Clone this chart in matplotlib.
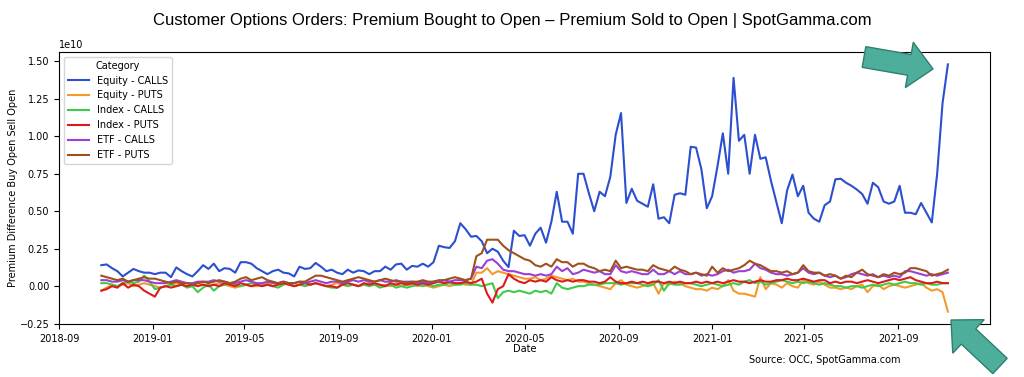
import numpy as np
import pandas as pd
import matplotlib
matplotlib.use("Agg")
import matplotlib.pyplot as plt
from matplotlib.patches import FancyArrow
from matplotlib.transforms import IdentityTransform

# weekly dates (fridays)
start_date = "2018-10-26"
n_weeks = 159

categories = ["Equity - CALLS", "Equity - PUTS", "Index - CALLS",
              "Index - PUTS", "ETF - CALLS", "ETF - PUTS"]

# values in units of 1e10
equity_calls = [
    0.14, 0.145, 0.12, 0.10, 0.065, 0.09, 0.115, 0.10, 0.09, 0.09,
    0.08, 0.09, 0.09, 0.06, 0.125, 0.10, 0.08, 0.065, 0.10, 0.14,
    0.115, 0.15, 0.10, 0.12, 0.115, 0.09, 0.16, 0.16, 0.15, 0.12,
    0.10, 0.08, 0.10, 0.11, 0.09, 0.085, 0.065, 0.13, 0.115, 0.12,
    0.155, 0.13, 0.10, 0.11, 0.09, 0.08, 0.11, 0.09, 0.105, 0.10,
    0.08, 0.10, 0.10, 0.13, 0.11, 0.145, 0.15, 0.11, 0.135, 0.13,
    0.15, 0.13, 0.16, 0.27, 0.26, 0.255, 0.30, 0.42, 0.38, 0.33,
    0.335, 0.30, 0.22, 0.25, 0.23, 0.17, 0.127, 0.37, 0.335, 0.34,
    0.27, 0.35, 0.39, 0.29, 0.43, 0.63, 0.43, 0.43, 0.35, 0.75,
    0.75, 0.62, 0.50, 0.63, 0.60, 0.73, 1.01, 1.155, 0.555, 0.65,
    0.57, 0.55, 0.53, 0.68, 0.45, 0.46, 0.42, 0.61, 0.62, 0.61,
    0.93, 0.925, 0.78, 0.52, 0.60, 0.80, 1.02, 0.75, 1.39, 0.97,
    1.01, 0.75, 1.01, 0.85, 0.86, 0.70, 0.56, 0.42, 0.64, 0.745,
    0.60, 0.67, 0.49, 0.45, 0.43, 0.54, 0.565, 0.713, 0.717, 0.69,
    0.67, 0.645, 0.615, 0.55, 0.69, 0.66, 0.565, 0.55, 0.565, 0.67,
    0.49, 0.49, 0.48, 0.555, 0.49, 0.425, 0.75, 1.22, 1.48]

equity_puts = [
    -0.03, -0.01, 0.01, 0.00, 0.01, 0.02, 0.00, 0.01, 0.02, 0.01,
    0.00, -0.01, 0.00, 0.01, 0.02, 0.01, 0.00, 0.01, 0.02, 0.01,
    0.00, 0.01, 0.02, 0.01, 0.00, -0.01, 0.00, 0.01, 0.00, 0.00,
    0.01, 0.02, 0.00, 0.01, 0.02, 0.01, 0.00, 0.01, 0.02, 0.01,
    0.02, 0.01, 0.00, 0.01, 0.02, 0.01, 0.02, 0.01, 0.00, 0.01,
    0.02, 0.01, 0.00, 0.01, 0.00, 0.01, 0.00, 0.01, 0.01, 0.00,
    0.01, 0.00, -0.01, 0.00, 0.01, 0.00, 0.01, 0.02, 0.01, 0.01,
    0.09, 0.09, 0.12, 0.08, 0.10, 0.09, 0.08, 0.07, 0.06, 0.05,
    0.05, 0.06, 0.04, 0.05, 0.07, 0.06, 0.05, 0.04, 0.05, 0.03,
    0.03, 0.02, 0.01, 0.00, -0.01, -0.02, 0.02, 0.04, 0.01, 0.00,
    -0.01, 0.00, 0.01, 0.02, -0.05, 0.02, 0.01, 0.03, 0.02, 0.00,
    -0.01, -0.02, -0.02, -0.03, -0.01, -0.02, 0.00, 0.04, -0.03, -0.05,
    -0.05, -0.06, -0.07, 0.06, -0.02, 0.02, 0.01, -0.01, 0.02, 0.00,
    -0.01, 0.04, 0.02, 0.01, 0.03, 0.01, -0.01, -0.01, -0.02, -0.01,
    -0.02, 0.00, 0.01, -0.04, 0.00, 0.01, -0.02, 0.00, 0.01, 0.00,
    -0.01, 0.00, 0.01, 0.02, -0.01, -0.03, -0.02, -0.04, -0.17]

index_calls = [
    0.02, 0.02, 0.01, 0.00, 0.02, 0.03, 0.02, 0.03, 0.07, 0.03,
    -0.02, -0.01, 0.00, 0.01, 0.00, 0.01, -0.01, 0.00, -0.04, -0.01,
    0.01, -0.03, 0.00, 0.01, 0.02, 0.01, 0.00, 0.01, 0.02, 0.01,
    0.00, 0.01, 0.00, -0.01, 0.01, 0.02, 0.00, 0.01, 0.00, 0.01,
    0.02, 0.01, 0.00, -0.01, -0.01, 0.01, 0.00, 0.01, 0.00, 0.01,
    0.00, 0.01, -0.01, 0.00, 0.01, -0.01, 0.00, -0.01, 0.00, 0.01,
    0.00, 0.01, 0.00, 0.01, 0.01, 0.02, 0.01, 0.01, 0.02, 0.01,
    0.01, 0.00, 0.01, 0.02, -0.08, -0.04, -0.03, -0.04, -0.03, -0.04,
    -0.05, -0.03, -0.04, -0.03, -0.05, 0.02, -0.01, -0.02, -0.01, 0.00,
    0.00, 0.01, 0.01, 0.01, 0.02, 0.02, 0.02, 0.01, 0.02, 0.02,
    0.02, 0.01, 0.00, 0.01, 0.04, -0.03, 0.02, 0.01, 0.01, 0.02,
    0.02, 0.01, 0.00, 0.01, 0.02, 0.01, 0.00, 0.01, 0.02, 0.01,
    0.03, 0.04, 0.02, 0.03, 0.01, 0.02, 0.03, 0.04, 0.03, 0.02,
    0.03, 0.02, 0.03, 0.02, 0.01, 0.02, 0.01, 0.00, 0.00, -0.01,
    0.00, 0.00, -0.01, 0.00, 0.01, 0.00, 0.01, 0.02, 0.01, 0.02,
    0.03, 0.02, 0.02, 0.01, 0.02, 0.01, 0.01, 0.02, 0.02]

index_puts = [
    -0.03, -0.02, 0.00, -0.01, 0.02, -0.01, 0.01, 0.00, -0.03, -0.05,
    -0.07, -0.01, 0.00, -0.01, 0.00, 0.01, 0.00, 0.01, 0.00, 0.01,
    0.00, 0.01, 0.00, 0.02, 0.01, 0.00, 0.02, 0.01, 0.00, 0.01,
    0.00, 0.01, 0.00, 0.01, 0.02, 0.01, 0.00, 0.01, 0.02, 0.01,
    0.02, 0.01, 0.00, 0.00, -0.01, 0.01, 0.02, 0.01, 0.00, 0.02,
    0.01, 0.02, 0.01, 0.00, 0.02, 0.01, 0.02, 0.01, 0.02, 0.01,
    0.02, 0.01, 0.02, 0.03, 0.02, 0.03, 0.02, 0.02, 0.03, 0.02,
    0.03, 0.05, -0.05, -0.11, -0.02, 0.00, 0.08, 0.05, 0.03, 0.02,
    0.04, 0.03, 0.04, 0.03, 0.06, 0.04, 0.03, 0.04, 0.03, 0.04,
    0.04, 0.03, 0.03, 0.02, 0.03, 0.06, 0.03, 0.02, 0.02, 0.03,
    0.02, 0.03, 0.02, 0.03, 0.03, 0.02, 0.03, 0.02, 0.03, 0.02,
    0.02, 0.03, 0.02, 0.03, 0.02, 0.03, 0.02, 0.03, 0.04, 0.03,
    0.03, 0.02, 0.03, 0.04, 0.03, 0.03, 0.04, 0.04, 0.05, 0.04,
    0.04, 0.05, 0.04, 0.03, 0.04, 0.04, 0.02, 0.03, 0.02, 0.03,
    0.03, 0.02, 0.03, 0.04, 0.03, 0.02, 0.03, 0.04, 0.05, 0.04,
    0.05, 0.06, 0.04, 0.03, 0.02, 0.02, 0.03, 0.02, 0.02]

etf_calls = [
    0.04, 0.04, 0.03, 0.03, 0.04, 0.03, 0.04, 0.04, 0.04, 0.03,
    0.02, 0.02, 0.02, 0.03, 0.04, 0.03, 0.02, 0.02, 0.03, 0.03,
    0.03, 0.04, 0.03, 0.03, 0.02, 0.02, 0.03, 0.04, 0.03, 0.02,
    0.02, 0.03, 0.02, 0.02, 0.03, 0.02, 0.02, 0.03, 0.02, 0.03,
    0.04, 0.03, 0.02, 0.03, 0.03, 0.02, 0.03, 0.04, 0.03, 0.04,
    0.03, 0.03, 0.04, 0.03, 0.03, 0.04, 0.03, 0.03, 0.03, 0.02,
    0.03, 0.02, 0.03, 0.03, 0.04, 0.03, 0.04, 0.04, 0.04, 0.05,
    0.13, 0.12, 0.17, 0.18, 0.15, 0.11, 0.10, 0.10, 0.09, 0.08,
    0.08, 0.07, 0.08, 0.07, 0.08, 0.13, 0.10, 0.12, 0.08, 0.09,
    0.11, 0.10, 0.09, 0.10, 0.08, 0.08, 0.14, 0.10, 0.09, 0.10,
    0.09, 0.08, 0.08, 0.11, 0.08, 0.08, 0.10, 0.08, 0.10, 0.08,
    0.08, 0.09, 0.07, 0.08, 0.07, 0.08, 0.10, 0.11, 0.09, 0.10,
    0.10, 0.11, 0.15, 0.12, 0.11, 0.09, 0.08, 0.08, 0.07, 0.08,
    0.09, 0.12, 0.09, 0.08, 0.09, 0.07, 0.06, 0.07, 0.05, 0.06,
    0.08, 0.09, 0.08, 0.07, 0.08, 0.06, 0.07, 0.06, 0.07, 0.06,
    0.10, 0.10, 0.09, 0.08, 0.07, 0.08, 0.07, 0.08, 0.09]

etf_puts = [
    0.07, 0.06, 0.05, 0.04, 0.05, 0.03, 0.04, 0.05, 0.06, 0.05,
    0.05, 0.04, 0.03, 0.02, 0.03, 0.02, 0.02, 0.01, 0.02, 0.03,
    0.02, 0.03, 0.04, 0.03, 0.02, 0.03, 0.05, 0.06, 0.04, 0.05,
    0.06, 0.04, 0.03, 0.02, 0.03, 0.02, 0.02, 0.03, 0.03, 0.05,
    0.07, 0.07, 0.06, 0.05, 0.04, 0.03, 0.04, 0.05, 0.06, 0.05,
    0.04, 0.03, 0.04, 0.05, 0.04, 0.03, 0.03, 0.02, 0.03, 0.03,
    0.04, 0.03, 0.03, 0.04, 0.04, 0.05, 0.06, 0.05, 0.04, 0.05,
    0.20, 0.22, 0.31, 0.31, 0.31, 0.27, 0.24, 0.22, 0.20, 0.18,
    0.17, 0.14, 0.13, 0.15, 0.13, 0.18, 0.16, 0.16, 0.13, 0.15,
    0.15, 0.13, 0.12, 0.10, 0.11, 0.10, 0.17, 0.12, 0.13, 0.12,
    0.11, 0.11, 0.10, 0.14, 0.12, 0.11, 0.10, 0.13, 0.11, 0.10,
    0.08, 0.09, 0.08, 0.07, 0.13, 0.09, 0.12, 0.10, 0.11, 0.12,
    0.14, 0.17, 0.15, 0.14, 0.12, 0.10, 0.10, 0.09, 0.10, 0.08,
    0.09, 0.14, 0.10, 0.09, 0.09, 0.07, 0.08, 0.07, 0.05, 0.07,
    0.06, 0.09, 0.11, 0.08, 0.07, 0.06, 0.08, 0.07, 0.09, 0.08,
    0.09, 0.12, 0.12, 0.11, 0.10, 0.07, 0.08, 0.09, 0.11]

colors = ["#2b4fcf", "#f59a2a", "#3fcb4a", "#dc1c1c", "#9b3fd8", "#a0501a"]

dates = pd.date_range(start_date, periods=n_weeks, freq="7D")
series = [equity_calls, equity_puts, index_calls, index_puts, etf_calls, etf_puts]

fig = plt.figure(figsize=(10.24, 3.77), dpi=100)
ax = fig.add_axes([0.0576, 0.1406, 0.9094, 0.7214])

for name, vals, col in zip(categories, series, colors):
    ax.plot(dates, np.array(vals) * 1e10, color=col, lw=1.5, label=name)

ax.tick_params(labelsize=7)
ax.yaxis.get_offset_text().set_fontsize(7)
ax.set_yticks([-0.25e10, 0, 0.25e10, 0.5e10, 0.75e10, 1.0e10, 1.25e10, 1.5e10])
ax.set_xlabel("Date", fontsize=7, labelpad=0)
ax.set_ylabel("Premium Difference Buy Open Sell Open", fontsize=7, labelpad=1)
ax.legend(title="Category", loc="upper left", fontsize=7, title_fontsize=7,
          handlelength=2.2)

fig.text(0.5, 0.945, "Customer Options Orders: Premium Bought to Open \u2013 Premium Sold to Open | SpotGamma.com",
         ha="center", va="center", fontsize=12, family="Liberation Sans")
fig.text(0.731, 0.045, "Source: OCC, SpotGamma.com", ha="left", va="center", fontsize=7)

# teal arrows pointing at the last week (pixel coords, origin bottom left)
H = 377
arrow_kw = dict(width=21, head_width=46, head_length=24, length_includes_head=True,
                facecolor="#4cae9b", edgecolor="#2f7f6f", lw=1,
                transform=IdentityTransform(), clip_on=False)
fig.patches.append(FancyArrow(864, H - 57, 69, -12, **arrow_kw))
fig.patches.append(FancyArrow(1000, H - 366, -49, 46, **arrow_kw))

fig.savefig("out.png", dpi=100)
